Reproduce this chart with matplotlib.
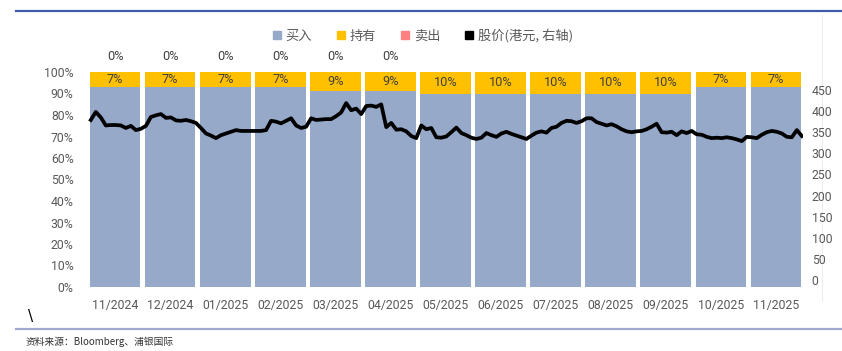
import matplotlib
matplotlib.use("Agg")
import matplotlib.pyplot as plt
from matplotlib.lines import Line2D
from matplotlib.patches import Patch
import numpy as np

plt.rcParams['font.family'] = ['Noto Sans CJK SC', 'DejaVu Sans']

months = ["11/2024", "12/2024", "01/2025", "02/2025", "03/2025", "04/2025", "05/2025",
          "06/2025", "07/2025", "08/2025", "09/2025", "10/2025", "11/2025"]
buy = [93, 93, 93, 93, 91, 91, 90, 90, 90, 90, 90, 93, 93]
hold = [7, 7, 7, 7, 9, 9, 10, 10, 10, 10, 10, 7, 7]
sell = [0, 0, 0, 0, 0, 0, 0, 0, 0, 0, 0, 0, 0]
sell_label_shown = [True, True, True, True, True, True, False, False, False, False, False, False, False]

price = [379, 398, 385, 366, 367, 367, 366, 360, 365, 355, 358, 365, 386, 390, 393, 384,
         385, 378, 377, 379, 376, 372, 360, 347, 342, 336, 343, 347, 351, 355, 353, 353,
         353, 353, 353, 355, 377, 375, 371, 377, 383, 366, 360, 363, 383, 379, 380, 381,
         381, 388, 397, 419, 402, 406, 393, 412, 413, 410, 416, 362, 372, 356, 357, 352,
         341, 336, 366, 357, 360, 338, 337, 340, 350, 361, 348, 343, 337, 334, 337, 348,
         343, 339, 347, 351, 346, 342, 338, 334, 342, 349, 352, 349, 360, 363, 372, 377,
         376, 372, 376, 383, 383, 374, 370, 366, 369, 364, 357, 352, 350, 352, 353, 357,
         363, 370, 350, 349, 351, 343, 352, 348, 353, 345, 344, 339, 336, 337, 336, 338,
         336, 333, 329, 339, 338, 336, 344, 350, 353, 351, 347, 339, 338, 355, 341]

right_ticks = [0, 50, 100, 150, 200, 250, 300, 350, 400, 450]

C_BUY = "#97A9C9"
C_HOLD = "#FFC000"
C_SELL = "#FF8080"
C_TXT = "#595959"
C_LBL = "#404040"

fig = plt.figure(figsize=(8.42, 3.51), dpi=100)
ax = fig.add_axes([87.5 / 842, 1 - 287 / 351, (803.5 - 87.5) / 842, (287 - 72) / 351])

x = np.arange(len(months))
w = 0.92
ax.bar(x, buy, width=w, color=C_BUY, zorder=2)
ax.bar(x, hold, bottom=buy, width=w, color=C_HOLD, zorder=2)
ax.bar(x, sell, bottom=np.array(buy) + np.array(hold), width=w, color=C_SELL, zorder=2)

for i in range(len(months)):
    ax.text(x[i], buy[i] + hold[i] / 2, f"{hold[i]}%", ha="center", va="center",
            fontsize=9.2, color=C_LBL, family="Roboto", zorder=4)
    if sell_label_shown[i]:
        ax.annotate(f"{sell[i]}%", (x[i], buy[i] + hold[i] + sell[i]),
                    xytext=(0, 11.5), textcoords="offset points", ha="center", va="center",
                    fontsize=9.2, color=C_LBL, family="Roboto", annotation_clip=False)

ax.set_xlim(-0.5, len(months) - 0.5)
ax.set_ylim(0, 100)
ax.set_yticks(range(0, 101, 10))
ax.set_yticklabels([f"{v}%" for v in range(0, 101, 10)], family="Roboto")
ax.set_xticks(x)
ax.set_xticklabels(months, family="Roboto")
ax.tick_params(axis="both", length=0, colors=C_TXT, labelsize=8.8)
ax.tick_params(axis="y", pad=10)
ax.tick_params(axis="x", pad=9)
for s in ax.spines.values():
    s.set_visible(False)

ax2 = ax.twinx()
px = np.linspace(-0.44, 12.47, len(price))
ax2.plot(px, price, color="black", lw=2.7, zorder=5, solid_joinstyle="round")
ax2.set_ylim(-16.6, 492.6)
ax2.set_yticks(right_ticks)
ax2.set_yticklabels([str(v) for v in right_ticks], family="Roboto")
ax2.tick_params(axis="y", length=0, colors=C_TXT, labelsize=8.8, pad=6)
for s in ax2.spines.values():
    s.set_visible(False)
ax.set_zorder(1)
ax2.set_zorder(2)
ax2.patch.set_visible(False)

handles = [Patch(color=C_BUY), Patch(color=C_HOLD), Patch(color=C_SELL), Patch(color="black")]
labels = ["买入", "持有", "卖出", "股价(港元, 右轴)"]
fig.legend(handles, labels, loc="center", bbox_to_anchor=(423 / 842, 1 - 36 / 351), ncol=4,
           frameon=False, fontsize=9.5, handlelength=0.6, handleheight=0.6,
           handletextpad=0.35, columnspacing=1.9, labelcolor=C_TXT)

# decorative frame lines
fig.add_artist(Line2D([16 / 842, 1], [1 - 11 / 351] * 2, color="#3F5BAA", lw=1.6))
fig.add_artist(Line2D([16 / 842, 1], [1 - 329 / 351] * 2, color="#A0A8D0", lw=1.6))
fig.add_artist(Line2D([822 / 842] * 2, [1 - 15 / 351, 1 - 300 / 351], color="#EDEDED", lw=0.8))

fig.text(26 / 842, 1 - 342 / 351, "资料来源：Bloomberg、浦银国际", fontsize=7, color="#333333",
         va="center", ha="left")
fig.text(28 / 842, 1 - 317 / 351, "\\", fontsize=11, color="black", va="center", ha="left",
         family="DejaVu Sans")

fig.savefig("out.png", dpi=100)
